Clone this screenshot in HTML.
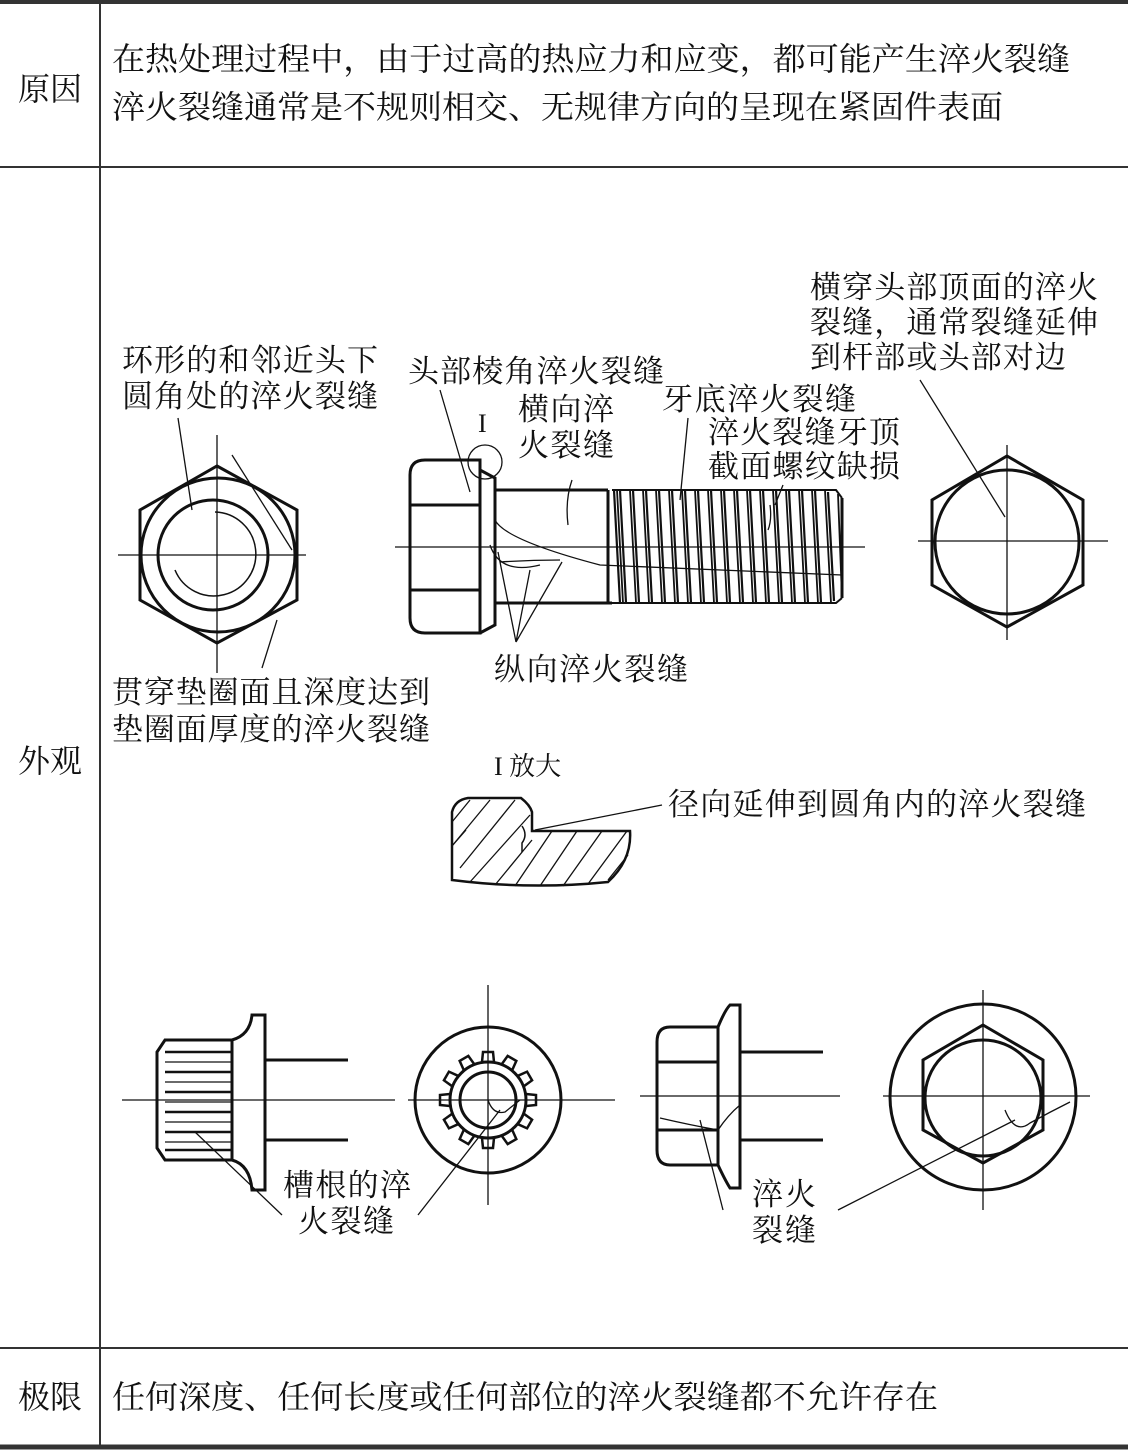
<!DOCTYPE html>
<html><head><meta charset="utf-8"><style>
html,body{margin:0;padding:0;background:#fff}
svg{display:block}
text{font-family:"Liberation Serif","Noto Serif CJK SC","Noto Sans CJK SC",serif;fill:#111}
</style></head><body>
<svg width="1128" height="1450" viewBox="0 0 1128 1450" xmlns="http://www.w3.org/2000/svg">
<g stroke="#333" fill="none">
<line x1="0" y1="2" x2="1128" y2="2" stroke-width="4"/>
<line x1="0" y1="167" x2="1128" y2="167" stroke-width="2"/>
<line x1="0" y1="1348" x2="1128" y2="1348" stroke-width="2"/>
<line x1="0" y1="1447" x2="1128" y2="1447" stroke-width="5"/>
<line x1="100" y1="0" x2="100" y2="1448" stroke-width="2"/>
</g>
<g font-size="32">
<text x="18" y="100" textLength="64">原因</text>
<text x="18" y="772" textLength="64">外观</text>
<text x="18" y="1408" textLength="64">极限</text>
<text x="112" y="70" textLength="958" lengthAdjust="spacingAndGlyphs">在热处理过程中，由于过高的热应力和应变，都可能产生淬火裂缝</text>
<text x="112" y="118" textLength="891" lengthAdjust="spacingAndGlyphs">淬火裂缝通常是不规则相交、无规律方向的呈现在紧固件表面</text>
<text x="112" y="1408" textLength="826" lengthAdjust="spacingAndGlyphs">任何深度、任何长度或任何部位的淬火裂缝都不允许存在</text>
</g>
<g font-size="31">
<text x="122" y="371" textLength="256">环形的和邻近头下</text>
<text x="122" y="407" textLength="256">圆角处的淬火裂缝</text>
<text x="112" y="703" textLength="318">贯穿垫圈面且深度达到</text>
<text x="112" y="740" textLength="318">垫圈面厚度的淬火裂缝</text>
<text x="408" y="382" textLength="256">头部棱角淬火裂缝</text>
<text x="518" y="420" textLength="96">横向淬</text>
<text x="518" y="456" textLength="96">火裂缝</text>
<text x="662" y="410" textLength="194">牙底淬火裂缝</text>
<text x="708" y="443" textLength="192">淬火裂缝牙顶</text>
<text x="708" y="477" textLength="192">截面螺纹缺损</text>
<text x="810" y="298" textLength="288">横穿头部顶面的淬火</text>
<text x="810" y="333" textLength="288">裂缝，通常裂缝延伸</text>
<text x="810" y="368" textLength="256">到杆部或头部对边</text>
<text x="494" y="680" textLength="194">纵向淬火裂缝</text>
<text x="668" y="815" textLength="418">径向延伸到圆角内的淬火裂缝</text>
<text x="283" y="1196" textLength="128">槽根的淬</text>
<text x="298" y="1232" textLength="96">火裂缝</text>
<text x="752" y="1205" textLength="64">淬火</text>
<text x="752" y="1241" textLength="64">裂缝</text>
</g>
<g font-size="26">
<text x="478" y="432">I</text>
<text x="494" y="775">I 放大</text>
</g>
<g stroke="#111" fill="none" stroke-width="3">
<polygon points="217,466 297,510 297,600 217,643 140,600 140,510"/>
<circle cx="218" cy="555" r="77"/>
<circle cx="213" cy="555" r="55"/>
<path d="M410,475 Q410,460 425,460 L480,460 L480,633 L425,633 Q410,633 410,618 Z"/>
<path d="M480,460 L480,633 M410,505 L480,505 M410,590 L480,590"/>
<path d="M480,470 L495,478 L495,625 L480,633"/>
<path d="M495,490 L608,490 M495,603 L612,603"/>
<path d="M608,490 L608,603 M842,498 L842,598"/>
<polygon points="1007,456 1083,500 1083,585 1007,627 932,585 932,500"/>
<circle cx="1007" cy="542" r="72"/>
<path d="M165,1040 L232,1040 L232,1160 L165,1160 L157,1148 L157,1052 Z"/>
<path d="M232,1040 Q250,1035 252,1015 L265,1015 L265,1190 L252,1190 Q250,1165 232,1160"/>
<path d="M265,1060 L348,1060 M265,1140 L348,1140"/>
<circle cx="488" cy="1100" r="73"/>
<circle cx="488" cy="1100" r="28"/>
<circle cx="488" cy="1100" r="38"/>
<path d="M670,1027 L718,1027 L718,1165 L670,1165 Q657,1165 657,1150 L657,1042 Q657,1027 670,1027 Z"/>
<path d="M657,1062 L718,1062 M657,1130 L718,1130"/>
<path d="M718,1027 Q725,1010 730,1005 L740,1005 L740,1188 L730,1188 Q725,1180 718,1165"/>
<path d="M740,1052 L823,1052 M740,1140 L823,1140"/>
<circle cx="983" cy="1097" r="93"/>
<polygon points="983,1025 1043,1060 1043,1130 983,1163 923,1130 923,1060"/>
<circle cx="983" cy="1098" r="58"/>
<path d="M452,880 L452,812 Q455,800 468,798 L521,798 Q530,805 532,812 L532,831 L630,831 Q632,860 608,882 Q530,890 452,880 Z" stroke-width="2.5"/>
</g>
<g stroke="#111" fill="none" stroke-width="1.3">
<path d="M614,490 L620,603 M620,490 L626,603 M633,490 L639,603 M646,490 L652,603 M659,490 L665,603 M672,490 L678,603 M685,490 L691,603 M698,490 L704,603 M711,490 L717,603 M724,490 L730,603 M737,490 L743,603 M750,490 L756,603 M763,490 L769,603 M776,490 L782,603 M789,490 L795,603 M802,490 L808,603 M815,490 L821,603 M828,492 L834,601" stroke-width="2.2"/>
<path d="M617,490 L623,603 M630,490 L636,603 M643,490 L649,603 M656,490 L662,603 M669,490 L675,603 M682,490 L688,603 M695,490 L701,603 M708,490 L714,603 M721,490 L727,603 M734,490 L740,603 M747,490 L753,603 M760,490 L766,603 M773,490 L779,603 M786,490 L792,603 M799,490 L805,603 M812,490 L818,603 M825,490 L831,603 M838,494 L842,598" stroke-width="1.8"/>
<path d="M612,490 L836,490 L842,498 M612,603 L836,603 L842,598" stroke-width="2"/>
<path d="M118,555 L306,555 M217,435 L217,673"/>
<path d="M395,547 L865,547"/>
<path d="M918,541 L1108,541 M1007,445 L1007,640"/>
<path d="M122,1100 L395,1100 M408,1100 L615,1100 M488,985 L488,1205"/>
<path d="M640,1096 L840,1096 M883,1096 L1090,1096 M983,990 L983,1210"/>
<path d="M215,512 A42,42 0 1 1 175,570" stroke-width="1.5"/>
<path d="M495,520 Q505,540 600,565 L842,575"/>
<path d="M490,545 Q500,575 540,565 M500,562 Q530,560 560,560"/>
<path d="M572,480 Q565,500 568,525"/>
<path d="M770,505 Q772,520 768,530"/>
<path d="M488,1100 Q493,1115 505,1112 L520,1100"/>
<path d="M660,1118 Q690,1125 718,1130 Q728,1115 740,1105"/>
<path d="M1005,1110 Q1015,1135 1030,1123 Q1050,1112 1070,1102"/>
<path d="M522,826 Q528,835 522,843 L522,852" stroke-width="1.5"/>
<path d="M178,418 L192,510"/>
<path d="M232,455 L292,550"/>
<path d="M262,668 L277,620"/>
<path d="M440,390 L470,492"/>
<path d="M688,418 L680,500"/>
<path d="M783,485 L775,505"/>
<path d="M920,380 L1005,517"/>
<path d="M516,642 L498,552 M516,642 L530,570 M516,642 L562,562"/>
<path d="M662,805 L535,830"/>
<path d="M282,1215 L195,1132"/>
<path d="M418,1215 L500,1110"/>
<path d="M723,1210 L700,1120"/>
<path d="M838,1210 L1015,1120"/>
<circle cx="485" cy="462" r="17"/>
</g>
<g stroke="#111" stroke-width="1.3">
<line x1="466" y1="830" x2="452" y2="846"/><line x1="490" y1="800" x2="452" y2="846"/>
<line x1="515" y1="800" x2="460" y2="868"/><line x1="530" y1="815" x2="470" y2="882"/>
<line x1="532" y1="840" x2="495" y2="885"/><line x1="552" y1="831" x2="515" y2="886"/>
<line x1="577" y1="831" x2="540" y2="886"/><line x1="602" y1="831" x2="563" y2="886"/>
<line x1="627" y1="831" x2="588" y2="884"/><line x1="628" y1="855" x2="608" y2="880"/>
<line x1="470" y1="800" x2="452" y2="822"/>
</g>
<g stroke="#111" fill="none" stroke-width="2.5">
<path d="M232,1052 L165,1052 M232,1072 L165,1072 M232,1092 L165,1092 M232,1112 L165,1112 M232,1132 L165,1132 M232,1150 L165,1150"/>
<path d="M165,1062 L232,1062 M165,1082 L232,1082 M165,1102 L232,1102 M165,1122 L232,1122 M165,1142 L232,1142" stroke-width="1.3"/>
</g>
<g stroke="#111" fill="none" stroke-width="2.5" transform="translate(488,1100)">
<path id="t" d="M-6,-38 L-5,-48 L5,-48 L6,-38"/>
<use href="#t" transform="rotate(30)"/><use href="#t" transform="rotate(60)"/><use href="#t" transform="rotate(90)"/>
<use href="#t" transform="rotate(120)"/><use href="#t" transform="rotate(150)"/><use href="#t" transform="rotate(180)"/>
<use href="#t" transform="rotate(210)"/><use href="#t" transform="rotate(240)"/><use href="#t" transform="rotate(270)"/>
<use href="#t" transform="rotate(300)"/><use href="#t" transform="rotate(330)"/>
</g>
</svg>
</body></html>
